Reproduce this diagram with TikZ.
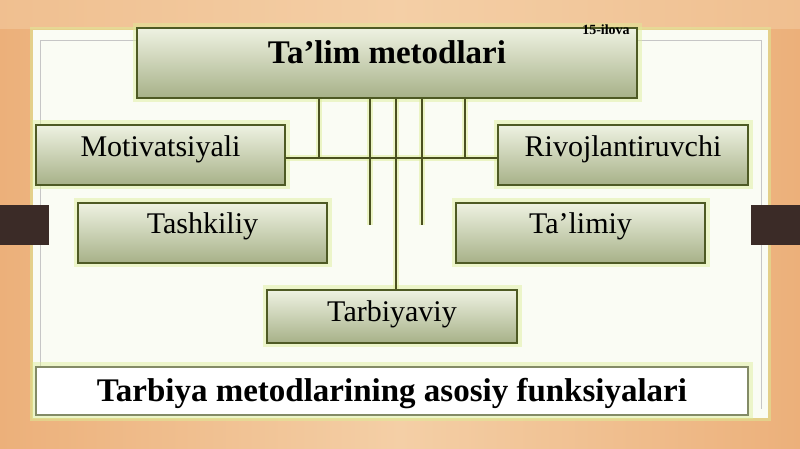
\documentclass[tikz,border=0pt]{standalone}
\usepackage{fontspec}
\setmainfont{Liberation Serif}
\definecolor{peach}{HTML}{F4CFA6}
\definecolor{peachdark}{HTML}{ECB07A}
\definecolor{panel}{HTML}{FAFCF4}
\definecolor{boxtop}{HTML}{EEF2E2}
\definecolor{boxbot}{HTML}{A7B188}
\definecolor{boxline}{HTML}{4E5A24}
\definecolor{glow}{HTML}{DDEE96}
\definecolor{conn}{HTML}{4A5020}
\definecolor{darkblock}{HTML}{3B2B27}
\begin{document}
\begin{tikzpicture}[x=1pt,y=1pt,
  glowbox/.style={draw=glow, line width=9pt, opacity=0.45, inner sep=0pt, fill=none},
  mbox/.style={draw=boxline, line width=1.4pt, top color=boxtop, bottom color=boxbot,
    inner sep=0pt, font=\fontsize{30}{30}\selectfont, text=black, text height=20pt, text depth=16pt},
  conline/.style={draw=conn, line width=1.1pt},
  conglow/.style={draw=glow, line width=6pt, opacity=0.5}]
\useasboundingbox (0,0) rectangle (800,449);
% background
\shade[left color=peachdark, right color=peachdark, middle color=peach] (0,0) rectangle (800,449);
\fill[peach, opacity=0.5] (0,420) rectangle (800,449);
% panel
\fill[glow, opacity=0.5] (30,28) rectangle (771,422);
\fill[panel] (33,31) rectangle (768,419);
\draw[gray!45, line width=0.8pt] (40,40) -- (40,409) -- (761,409) -- (761,40);
% dark side blocks
\fill[darkblock] (0,204) rectangle (49,244);
\fill[darkblock] (751,204) rectangle (800,244);
% glows
\foreach \cx/\cy/\w/\h in {387/386/500/70, 160.5/294/249/60, 623/294/250/60, 202.5/216/249/60, 580.5/216/249/60, 392/132.5/250/53, 392/58/712/48}
  \draw[glowbox] (\cx-\w/2,\cy-\h/2) rectangle (\cx+\w/2,\cy+\h/2);
% connector glows
\foreach \xx/\yb in {319/291, 465/291, 370/224, 422/224, 396/159}
  \draw[conglow] (\xx,351) -- (\xx,\yb);
\draw[conglow] (285,291) -- (498,291);
% boxes
\node[mbox, minimum width=500pt, minimum height=70pt, font=\fontsize{33}{33}\selectfont\bfseries, text height=22pt, text depth=20pt] (title) at (387,386) {Ta’lim metodlari};
\node[mbox, minimum width=249pt, minimum height=60pt] (mot) at (160.5,294) {Motivatsiyali};
\node[mbox, minimum width=250pt, minimum height=60pt] (riv) at (623,294) {Rivojlantiruvchi};
\node[mbox, minimum width=249pt, minimum height=60pt, text depth=18pt] (tash) at (202.5,216) {Tashkiliy};
\node[mbox, minimum width=249pt, minimum height=60pt, text depth=18pt] (tal) at (580.5,216) {Ta’limiy};
\node[mbox, minimum width=250pt, minimum height=53pt, text depth=9pt] (tarb) at (392,132.5) {Tarbiyaviy};
\node[draw=boxline!70, line width=1.2pt, fill=white, inner sep=0pt, minimum width=712pt, minimum height=48pt,
  font=\fontsize{33}{33}\selectfont\bfseries, text height=26pt, text depth=4pt] (fun) at (392,58) {Tarbiya metodlarining asosiy funksiyalari};
\node[font=\fontsize{14}{14}\selectfont\bfseries, inner sep=0pt] (ilova) at (606,419) {15-ilova};
% connectors
\coordinate (h1) at (319,291);
\coordinate (h2) at (465,291);
\coordinate (e1) at (370,224);
\coordinate (e2) at (422,224);
\coordinate (v3) at (396,0);
\draw[conline] (title.south -| h1) -- (h1);
\draw[conline] (title.south -| h2) -- (h2);
\draw[conline] (title.south -| e1) -- (e1);
\draw[conline] (title.south -| e2) -- (e2);
\draw[conline] (title.south -| v3) -- (tarb.north -| v3);
\draw[conline] ([yshift=-3pt]mot.east) -- ([yshift=-3pt]riv.west);
\end{tikzpicture}
\end{document}
